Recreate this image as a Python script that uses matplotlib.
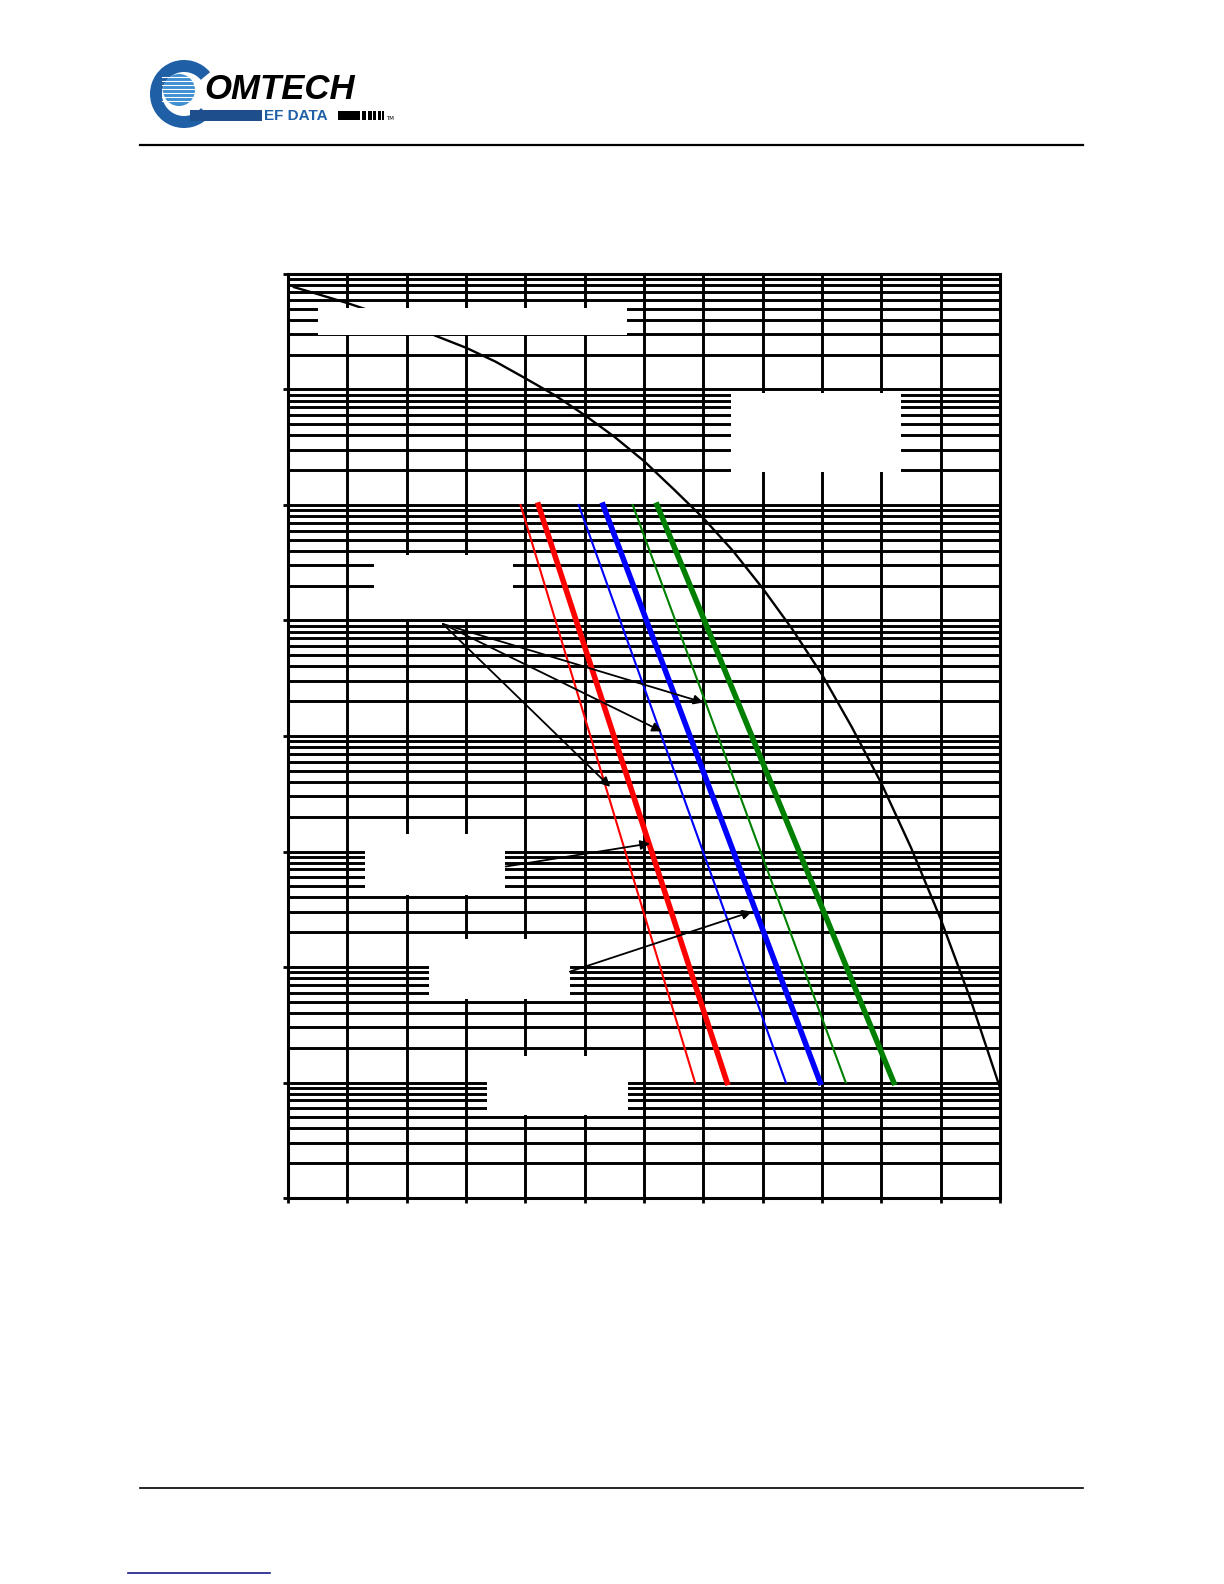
import numpy as np
import matplotlib
matplotlib.use("Agg")
import matplotlib.pyplot as plt
from matplotlib.ticker import LogLocator, MultipleLocator, NullFormatter
from matplotlib.patches import Rectangle, Wedge, Circle

# --- DATA ---

# uncoded BPSK/QPSK reference curve
ebno_uncoded = [0.1, 0.5, 1.0, 1.5, 2.0, 2.5, 3.0, 3.5, 4.0, 4.5, 5.0, 5.5,
                6.0, 6.5, 7.0, 7.5, 8.0, 8.5, 9.0, 9.5, 10.0, 10.5, 11.0, 11.5, 12.0]
ber_uncoded = [7.7e-2, 6.7e-2, 5.6e-2, 4.6e-2, 3.75e-2, 2.9e-2, 2.3e-2, 1.74e-2,
               1.25e-2, 8.9e-3, 6.0e-3, 3.9e-3, 2.4e-3, 1.37e-3, 7.7e-4, 4.0e-4,
               1.9e-4, 8.4e-5, 3.4e-5, 1.2e-5, 3.9e-6, 1.08e-6, 2.6e-7, 5.3e-8, 9.0e-9]

# coded curves, straight lines between BER 1e-3 and 1e-8
ber_ends = [1e-3, 1e-8]
red_thin_x = [3.92, 6.86]
red_thick_x = [4.22, 7.40]
blue_thin_x = [4.90, 8.39]
blue_thick_x = [5.31, 8.97]
green_thin_x = [5.81, 9.40]
green_thick_x = [6.22, 10.21]

x_min, x_max = 0, 12
ber_min, ber_max = 1e-9, 1e-1

# --- LAYOUT (label boxes and arrows, in data coords) ---
# (x0, x1, log10 top, log10 bottom)
boxes = [
    (0.51, 5.72, -1.294, -1.528),
    (7.47, 10.33, -2.03, -2.71),
    (1.45, 3.80, -3.43, -3.99),
    (1.30, 3.66, -5.85, -6.38),
    (2.38, 4.75, -6.76, -7.28),
    (3.35, 5.73, -7.77, -8.28),
]
# (start x, start log10, end x, end log10)
arrows = [
    (2.61, -4.03, 7.00, -4.71),
    (2.61, -4.03, 6.30, -4.96),
    (2.61, -4.03, 5.43, -5.44),
    (3.67, -6.13, 6.10, -5.93),
    (4.75, -7.04, 7.82, -6.52),
]

W, H = 1224, 1584
fig = plt.figure(figsize=(W / 100, H / 100), dpi=100)

# --- CHART ---
ax = fig.add_axes([288 / W, 1 - 1198 / H, (1000 - 288) / W, (1198 - 274) / H])
ax.set_yscale('log')
ax.set_xlim(x_min, x_max)
ax.set_ylim(ber_min, ber_max)

ax.xaxis.set_major_locator(MultipleLocator(1))
ax.yaxis.set_major_locator(LogLocator(base=10, numticks=20))
ax.yaxis.set_minor_locator(LogLocator(base=10, subs=np.arange(2, 10), numticks=20))
ax.yaxis.set_minor_formatter(NullFormatter())
ax.grid(True, which='both', color='black', linewidth=2.1)
ax.set_axisbelow(True)
ax.tick_params(which='major', direction='out', length=3.5, width=2,
               labelleft=False, labelbottom=False)
ax.tick_params(which='minor', length=0)
for s in ax.spines.values():
    s.set_linewidth(2.2)

ax.plot(ebno_uncoded, ber_uncoded, color='black', lw=1.7, zorder=3)

ax.plot(red_thin_x, ber_ends, color='#ff0000', lw=1.5, zorder=3)
ax.plot(red_thick_x, ber_ends, color='#ff0000', lw=4.0, zorder=3)
ax.plot(blue_thin_x, ber_ends, color='#0000ff', lw=1.5, zorder=3)
ax.plot(blue_thick_x, ber_ends, color='#0000ff', lw=4.0, zorder=3)
ax.plot(green_thin_x, ber_ends, color='#008000', lw=1.5, zorder=3)
ax.plot(green_thick_x, ber_ends, color='#008000', lw=4.0, zorder=3)

# white label boxes (text removed)
for x0, x1, top, bot in boxes:
    ax.add_patch(Rectangle((x0, 10 ** bot), x1 - x0, 10 ** top - 10 ** bot,
                           facecolor='white', edgecolor='none', zorder=4))

for xs, ys, xe, ye in arrows:
    ax.annotate('', xy=(xe, 10 ** ye), xytext=(xs, 10 ** ys),
                arrowprops=dict(arrowstyle='-|>', color='black', lw=1.3,
                                mutation_scale=14, shrinkA=0, shrinkB=0),
                zorder=5)

# --- PAGE DECORATION (pixel coords) ---
pg = fig.add_axes([0, 0, 1, 1])
pg.set_xlim(0, W)
pg.set_ylim(H, 0)
pg.axis('off')
pg.patch.set_alpha(0)

pg.plot([140, 1083], [144.5, 144.5], color='black', lw=1.6)
pg.plot([140, 1083], [1488, 1488], color='black', lw=1.2)
pg.plot([128, 270], [1573, 1573], color='#1a1a8c', lw=1.2)

# logo: blue swoosh, globe, wordmark
pg.add_patch(Wedge((184, 94), 34, 40, 320, width=12, facecolor='#1f5fa6', edgecolor='none'))
pg.add_patch(Rectangle((190, 110), 72, 11, facecolor='#1f4e8c', edgecolor='none'))
pg.add_patch(Circle((179, 90), 16, facecolor='#3f8fd2', edgecolor='none'))
for yy in np.arange(77, 104, 4):
    pg.plot([162, 196], [yy, yy], color='white', lw=0.8)
pg.text(204, 99, 'OMTECH', fontsize=25, fontweight='bold', style='italic',
        family='Liberation Sans', color='black', va='baseline', ha='left')
pg.text(264, 120, 'EF DATA', fontsize=11, fontweight='bold',
        family='Liberation Sans', color='#1f5fa6', va='baseline', ha='left')
pg.add_patch(Rectangle((338, 111), 22, 9, facecolor='black', edgecolor='none'))
for bx, bw in [(362, 4), (368, 3.5), (373, 3), (378, 2.5), (382, 2)]:
    pg.add_patch(Rectangle((bx, 111), bw, 9, facecolor='black', edgecolor='none'))
pg.text(386, 120, 'TM', fontsize=4, color='black', va='baseline', ha='left')

fig.savefig('out.png', dpi=100)
